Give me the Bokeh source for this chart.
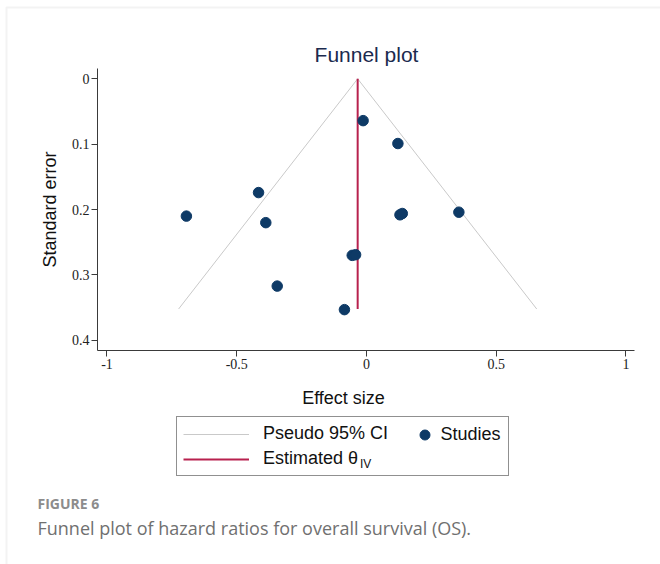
from bokeh.plotting import figure
from bokeh.models import (Range1d, FixedTicker, Legend, LegendItem, Label,
                          BoxAnnotation, LinearAxis)
from bokeh.embed import file_html
from bokeh.resources import INLINE

# ---- data ----
effect = [-0.694, -0.416, -0.388, -0.344, -0.055, -0.042, -0.085,
          -0.013, 0.121, 0.129, 0.138, 0.356]
std_err = [0.210, 0.174, 0.220, 0.317, 0.270, 0.269, 0.353,
           0.064, 0.099, 0.208, 0.206, 0.204]
ci_x = [-0.724, -0.034, 0.656]
ci_y = [0.352, 0.0, 0.352]
theta_x = [-0.034, -0.034]
theta_y = [0.0, 0.352]
x_ticks = [-1, -0.5, 0, 0.5, 1]
x_tick_labels = ["-1", "-0.5", "0", "0.5", "1"]
y_ticks = [0, 0.1, 0.2, 0.3, 0.4]
y_tick_labels = ["0", "0.1", "0.2", "0.3", "0.4"]

# ---- layout ----
W, H = 660, 564
# data extents of the whole canvas (frame = full canvas)
X0, X1 = -1.4104, 1.1330
Y_TOP, Y_BOT = -0.1197, 0.7427
# plotted axis extents
AX_X = (-1.0366, 1.0328)
AX_Y = (-0.01575, 0.4154)

SANS = "Liberation Sans"
SERIF = "Liberation Serif"
NAVY = "#0e3a66"
CRIMSON = "#b8214e"
CI_GRAY = "#c9c9c9"
AXIS_COL = "#3a3a3a"

p = figure(width=W, height=H, output_backend="svg", toolbar_location=None,
           x_range=Range1d(X0, X1), y_range=Range1d(Y_BOT, Y_TOP),
           x_axis_location=None, y_axis_location=None,
           min_border=0)
p.outline_line_color = None
p.background_fill_color = "white"
p.border_fill_color = "white"
p.xgrid.visible = False
p.ygrid.visible = False

xaxis = LinearAxis(fixed_location=AX_Y[1], bounds=AX_X,
                   ticker=FixedTicker(ticks=x_ticks),
                   major_label_overrides=dict(zip(x_ticks, x_tick_labels)),
                   major_label_standoff=3)
yaxis = LinearAxis(fixed_location=AX_X[0], bounds=AX_Y,
                   ticker=FixedTicker(ticks=y_ticks),
                   major_label_overrides=dict(zip(y_ticks, y_tick_labels)),
                   major_label_standoff=2,
                   axis_label="Standard error",
                   axis_label_text_font=SANS,
                   axis_label_text_font_size="18px",
                   axis_label_text_font_style="normal",
                   axis_label_text_color="#111111",
                   axis_label_standoff=9)
for ax in (xaxis, yaxis):
    ax.axis_line_color = AXIS_COL
    ax.major_tick_line_color = AXIS_COL
    ax.minor_tick_line_color = None
    ax.major_tick_out = 6
    ax.major_tick_in = 0
    ax.major_label_text_font = SERIF
    ax.major_label_text_font_size = "14px"
    ax.major_label_text_color = "#222222"
p.add_layout(xaxis, "below")
p.add_layout(yaxis, "left")

# ---- glyphs ----
ci = p.line(ci_x, ci_y, line_color=CI_GRAY, line_width=1)
est = p.line(theta_x, theta_y, line_color=CRIMSON, line_width=2)
pts = p.scatter(effect, std_err, size=10.5, fill_color=NAVY, line_color=NAVY)

# ---- helpers: canvas pixel (from top-left) -> screen units ----
def sx(px):
    return px

def sy(py):
    return H - py

def label(text, x, y, size, color, font=SANS, align="left", style="normal"):
    p.add_layout(Label(x=sx(x), y=sy(y), x_units="screen", y_units="screen",
                       text=text, text_align=align, text_baseline="middle",
                       text_font=font, text_font_size=size,
                       text_font_style=style, text_color=color))

label("Funnel plot", 366, 54, "21px", "#1b2a4e", align="center")
label("Effect size", 343, 397, "18px", "#111111", align="center")

# ---- legend ----
leg_a = Legend(items=[LegendItem(label="Pseudo 95% CI", renderers=[ci]),
                      LegendItem(label="Estimated θ", renderers=[est])],
               location=(sx(176), sy(476)), orientation="vertical",
               glyph_width=66, glyph_height=20, label_height=20,
               label_width=239, label_standoff=14, spacing=4, padding=6,
               margin=0, border_line_color="#222222", border_line_width=1,
               background_fill_alpha=0,
               label_text_font=SANS, label_text_font_size="18px",
               label_text_color="#111111")
p.add_layout(leg_a, "center")

leg_b = Legend(items=[LegendItem(label="Studies", renderers=[pts])],
               location=(sx(411.5), sy(446.5)), orientation="vertical",
               glyph_width=25, glyph_height=25, label_height=25,
               label_standoff=4, padding=0, margin=0,
               border_line_alpha=0, background_fill_alpha=0,
               label_text_font=SANS, label_text_font_size="18px",
               label_text_color="#111111")
p.add_layout(leg_b, "center")

label("IV", 359.5, 463, "12px", "#111111")

# ---- caption ----
label("FIGURE 6", 37, 503, "14px", "#8c8c8c", font="Open Sans", style="bold")
label("Funnel plot of hazard ratios for overall survival (OS).", 37, 527,
      "18px", "#707070", font="Open Sans")

# ---- page frame (light gray border top & left) ----
p.add_layout(BoxAnnotation(left=sx(6), right=sx(760), top=sy(7), bottom=sy(700),
                           left_units="screen", right_units="screen",
                           top_units="screen", bottom_units="screen",
                           fill_alpha=0, line_color="#d6d6d6", line_width=2))

open("out.html", "w").write(file_html(p, INLINE))
